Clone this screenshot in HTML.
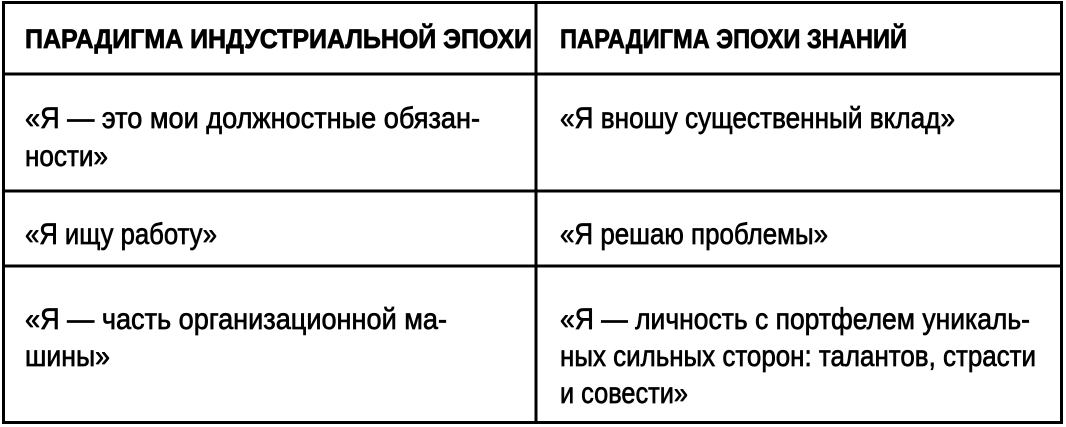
<!DOCTYPE html>
<html><head><meta charset="utf-8"><style>
html,body{margin:0;padding:0;background:#fff;}
svg{display:block;}
text{font-family:"Liberation Sans","DejaVu Sans",sans-serif;fill:#000;}
.h{font-weight:bold;font-size:27px;stroke:#000;stroke-width:0.8px;}
.b{font-size:30px;stroke:#000;stroke-width:0.7px;}
</style></head><body>
<svg width="1066" height="427" xmlns="http://www.w3.org/2000/svg">
<rect x="3.5" y="2.5" width="1058" height="420" fill="none" stroke="#000" stroke-width="3"/>
<line x1="536" y1="2" x2="536" y2="423" stroke="#000" stroke-width="3"/>
<line x1="2" y1="74" x2="1063" y2="74" stroke="#000" stroke-width="3"/>
<line x1="2" y1="191" x2="1063" y2="191" stroke="#000" stroke-width="3"/>
<line x1="2" y1="266" x2="1063" y2="266" stroke="#000" stroke-width="3"/>

<text class="h" x="25" y="48" textLength="507" lengthAdjust="spacingAndGlyphs">ПАРАДИГМА ИНДУСТРИАЛЬНОЙ ЭПОХИ</text>
<text class="h" x="560" y="48" textLength="347" lengthAdjust="spacingAndGlyphs">ПАРАДИГМА ЭПОХИ ЗНАНИЙ</text>

<text class="b" x="25" y="128" textLength="455" lengthAdjust="spacingAndGlyphs">«Я — это мои должностные обязан-</text>
<text class="b" x="25" y="166" textLength="83" lengthAdjust="spacingAndGlyphs">ности»</text>
<text class="b" x="560" y="128" textLength="395" lengthAdjust="spacingAndGlyphs">«Я вношу существенный вклад»</text>

<text class="b" x="25" y="244" textLength="192" lengthAdjust="spacingAndGlyphs">«Я ищу работу»</text>
<text class="b" x="560" y="244" textLength="268" lengthAdjust="spacingAndGlyphs">«Я решаю проблемы»</text>

<text class="b" x="25" y="329" textLength="422" lengthAdjust="spacingAndGlyphs">«Я — часть организационной ма-</text>
<text class="b" x="25" y="366" textLength="85" lengthAdjust="spacingAndGlyphs">шины»</text>
<text class="b" x="560" y="329" textLength="470" lengthAdjust="spacingAndGlyphs">«Я — личность с портфелем уникаль-</text>
<text class="b" x="560" y="366" textLength="476" lengthAdjust="spacingAndGlyphs">ных сильных сторон: талантов, страсти</text>
<text class="b" x="560" y="403" textLength="128" lengthAdjust="spacingAndGlyphs">и совести»</text>
</svg>
</body></html>
